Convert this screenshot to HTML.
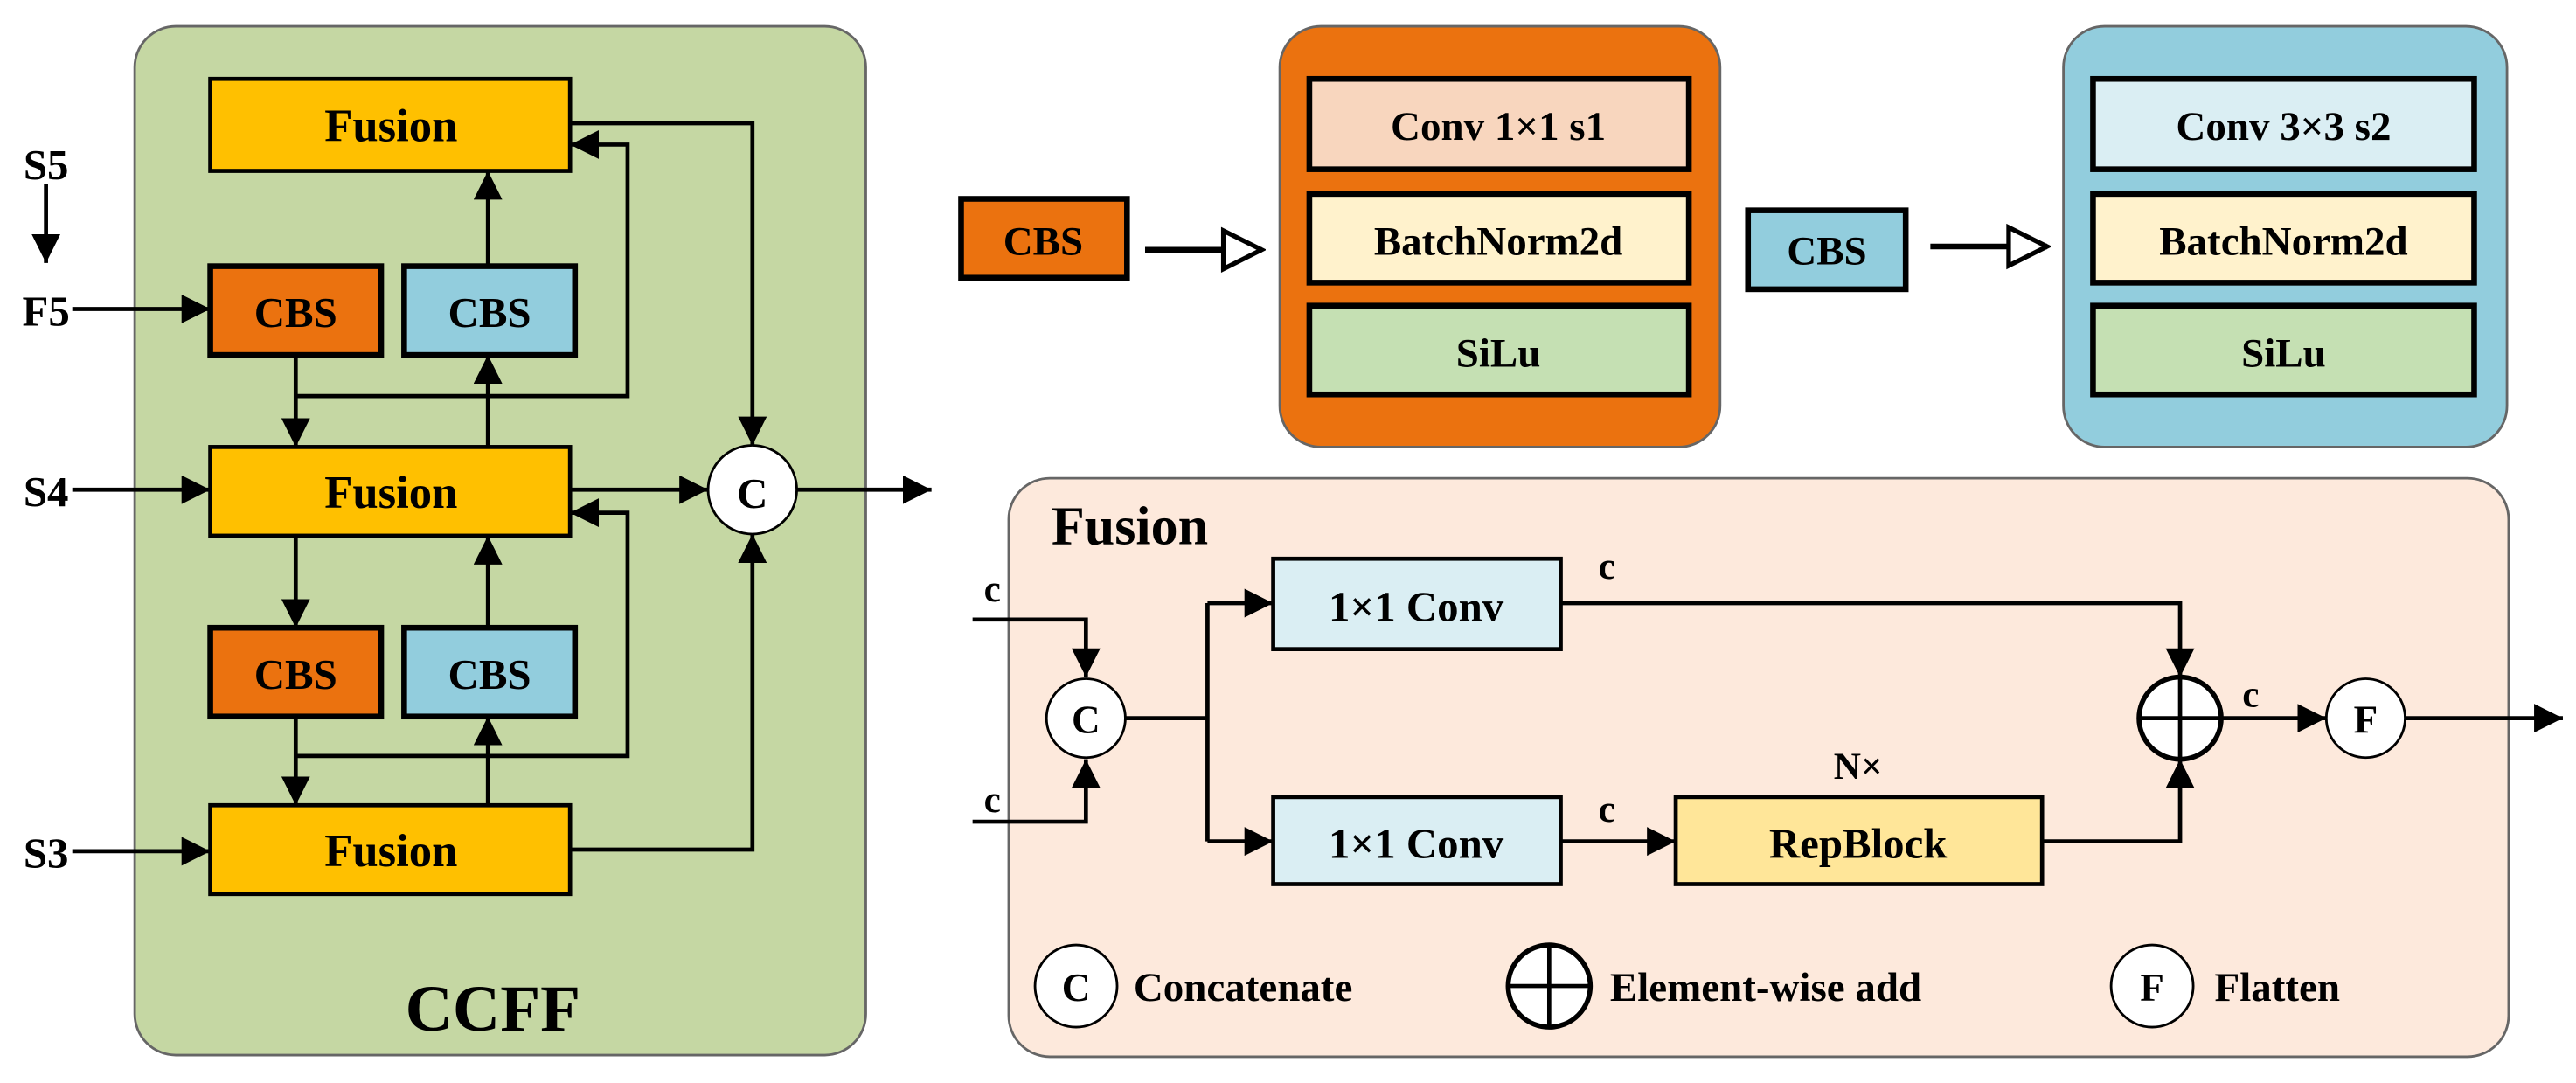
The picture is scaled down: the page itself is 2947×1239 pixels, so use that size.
<!DOCTYPE html>
<html><head><meta charset="utf-8"><style>
html,body{margin:0;padding:0;background:#fff;}
svg{display:block;}
text{font-family:"Liberation Serif",serif;font-weight:bold;fill:#000;}
</style></head><body>
<svg width="2947" height="1239" viewBox="0 0 1568 659" preserveAspectRatio="none" xmlns="http://www.w3.org/2000/svg">
<defs>
<marker id="a" viewBox="0 0 10 10" refX="10" refY="5" markerWidth="7" markerHeight="7" markerUnits="strokeWidth" orient="auto"><path d="M0,0L10,5L0,10z" fill="#000"/></marker>
<marker id="h" viewBox="0 0 12 12" refX="11" refY="6" markerWidth="8" markerHeight="8" markerUnits="strokeWidth" orient="auto"><path d="M1,1L11,6L1,11z" fill="#fff" stroke="#000" stroke-width="1.2"/></marker>
</defs>
<g stroke="#000" stroke-width="2.5" fill="none">
<rect x="82" y="16" width="445" height="626" rx="25" fill="#c5d7a3" stroke="#666" stroke-width="1.5"/>
<rect x="128" y="48" width="219" height="56" fill="#ffc000"/>
<rect x="128" y="162" width="104" height="54" fill="#eb720f" stroke-width="3.5"/>
<rect x="246" y="162" width="104" height="54" fill="#92cddd" stroke-width="3.5"/>
<rect x="128" y="272" width="219" height="54" fill="#ffc000"/>
<rect x="128" y="382" width="104" height="54" fill="#eb720f" stroke-width="3.5"/>
<rect x="246" y="382" width="104" height="54" fill="#92cddd" stroke-width="3.5"/>
<rect x="128" y="490" width="219" height="54" fill="#ffc000"/>
<circle cx="458" cy="298" r="27" fill="#fff" stroke-width="1.5"/>
<line x1="28" y1="112" x2="28" y2="160" marker-end="url(#a)"/>
<line x1="44" y1="188" x2="128" y2="188" marker-end="url(#a)"/>
<line x1="44" y1="298" x2="128" y2="298" marker-end="url(#a)"/>
<line x1="44" y1="518" x2="128" y2="518" marker-end="url(#a)"/>
<polyline points="347,75 458,75 458,271" marker-end="url(#a)"/>
<polyline points="180,241 382,241 382,88 347,88" marker-end="url(#a)"/>
<line x1="180" y1="216" x2="180" y2="272" marker-end="url(#a)"/>
<line x1="297" y1="272" x2="297" y2="216" marker-end="url(#a)"/>
<line x1="297" y1="162" x2="297" y2="104" marker-end="url(#a)"/>
<line x1="347" y1="298" x2="431" y2="298" marker-end="url(#a)"/>
<line x1="485" y1="298" x2="567" y2="298" marker-end="url(#a)"/>
<polyline points="180,460 382,460 382,312 347,312" marker-end="url(#a)"/>
<line x1="180" y1="326" x2="180" y2="382" marker-end="url(#a)"/>
<line x1="297" y1="382" x2="297" y2="326" marker-end="url(#a)"/>
<line x1="180" y1="436" x2="180" y2="490" marker-end="url(#a)"/>
<line x1="297" y1="490" x2="297" y2="436" marker-end="url(#a)"/>
<polyline points="347,517 458,517 458,325" marker-end="url(#a)"/>
<rect x="585" y="121" width="101" height="48" fill="#eb720f" stroke-width="3.5"/>
<line x1="697" y1="152" x2="768" y2="152" stroke-width="3.5" marker-end="url(#h)"/>
<rect x="779" y="16" width="268" height="256" rx="25" fill="#eb720f" stroke="#666" stroke-width="1.5"/>
<rect x="797" y="48" width="231" height="55" fill="#f8d6be" stroke-width="3.5"/>
<rect x="797" y="118" width="231" height="54" fill="#fff2cc" stroke-width="3.5"/>
<rect x="797" y="186" width="231" height="54" fill="#c5e0b3" stroke-width="3.5"/>
<rect x="1064" y="128" width="96" height="48" fill="#92cddd" stroke-width="3.5"/>
<line x1="1175" y1="150" x2="1246" y2="150" stroke-width="3.5" marker-end="url(#h)"/>
<rect x="1256" y="16" width="270" height="256" rx="25" fill="#92cddd" stroke="#666" stroke-width="1.5"/>
<rect x="1274" y="48" width="232" height="55" fill="#daeef3" stroke-width="3.5"/>
<rect x="1274" y="118" width="232" height="54" fill="#fff2cc" stroke-width="3.5"/>
<rect x="1274" y="186" width="232" height="54" fill="#c5e0b3" stroke-width="3.5"/>
<rect x="614" y="291" width="913" height="352" rx="25" fill="#fde9dc" stroke="#666" stroke-width="1.5"/>
<polyline points="592,377 661,377 661,412" marker-end="url(#a)"/>
<polyline points="592,500 661,500 661,462" marker-end="url(#a)"/>
<circle cx="661" cy="437" r="24" fill="#fff" stroke-width="1.5"/>
<line x1="685" y1="437" x2="735" y2="437"/>
<line x1="735" y1="367" x2="735" y2="512"/>
<line x1="735" y1="367" x2="775" y2="367" marker-end="url(#a)"/>
<line x1="735" y1="512" x2="775" y2="512" marker-end="url(#a)"/>
<rect x="775" y="340" width="175" height="55" fill="#daeef3"/>
<rect x="775" y="485" width="175" height="53" fill="#daeef3"/>
<polyline points="950,367 1327,367 1327,412" marker-end="url(#a)"/>
<line x1="950" y1="512" x2="1020" y2="512" marker-end="url(#a)"/>
<rect x="1020" y="485" width="223" height="53" fill="#ffe699"/>
<polyline points="1243,512 1327,512 1327,462" marker-end="url(#a)"/>
<circle cx="1327" cy="437" r="25" fill="#fff" stroke-width="3"/>
<line x1="1302" y1="437" x2="1352" y2="437"/><line x1="1327" y1="412" x2="1327" y2="462"/>
<line x1="1352" y1="437" x2="1416" y2="437" marker-end="url(#a)"/>
<circle cx="1440" cy="437" r="24" fill="#fff" stroke-width="1.5"/>
<line x1="1464" y1="437" x2="1560" y2="437" marker-end="url(#a)"/>
<circle cx="655" cy="600" r="25" fill="#fff" stroke-width="1.5"/>
<circle cx="943" cy="600" r="25" fill="#fff" stroke-width="3"/>
<line x1="918" y1="600" x2="968" y2="600"/><line x1="943" y1="575" x2="943" y2="625"/>
<circle cx="1310" cy="600" r="25" fill="#fff" stroke-width="1.5"/>
</g>
<g text-anchor="middle" font-size="28">
<text x="238" y="86">Fusion</text>
<text x="180" y="199" font-size="26">CBS</text>
<text x="298" y="199" font-size="26">CBS</text>
<text x="238" y="309">Fusion</text>
<text x="180" y="419" font-size="26">CBS</text>
<text x="298" y="419" font-size="26">CBS</text>
<text x="238" y="527">Fusion</text>
<text x="458" y="309" font-size="26">C</text>
<text x="300" y="627" font-size="40">CCFF</text>
<text x="28" y="109" font-size="26">S5</text>
<text x="28" y="198" font-size="26">F5</text>
<text x="28" y="308" font-size="26">S4</text>
<text x="28" y="528" font-size="26">S3</text>
<text x="635" y="155" font-size="25">CBS</text>
<text x="912" y="85" font-size="25">Conv 1×1 s1</text>
<text x="912" y="155" font-size="25">BatchNorm2d</text>
<text x="912" y="223" font-size="25">SiLu</text>
<text x="1112" y="161" font-size="25">CBS</text>
<text x="1390" y="85" font-size="25">Conv 3×3 s2</text>
<text x="1390" y="155" font-size="25">BatchNorm2d</text>
<text x="1390" y="223" font-size="25">SiLu</text>
<text x="862" y="378" font-size="26">1×1 Conv</text>
<text x="862" y="522" font-size="26">1×1 Conv</text>
<text x="1131" y="522" font-size="26">RepBlock</text>
<text x="1131" y="474" font-size="23">N×</text>
<text x="661" y="446" font-size="24">C</text>
<text x="1440" y="446" font-size="24">F</text>
<text x="655" y="609" font-size="24">C</text>
<text x="1310" y="609" font-size="24">F</text>
<text x="604" y="366" font-size="23">c</text>
<text x="604" y="494" font-size="23">c</text>
<text x="978" y="352" font-size="23">c</text>
<text x="978" y="500" font-size="23">c</text>
<text x="1370" y="430" font-size="23">c</text>
</g>
<g font-size="25">
<text x="640" y="331" font-size="33">Fusion</text>
<text x="690" y="609">Concatenate</text>
<text x="980" y="609">Element-wise add</text>
<text x="1348" y="609">Flatten</text>
</g>
</svg>
</body></html>
